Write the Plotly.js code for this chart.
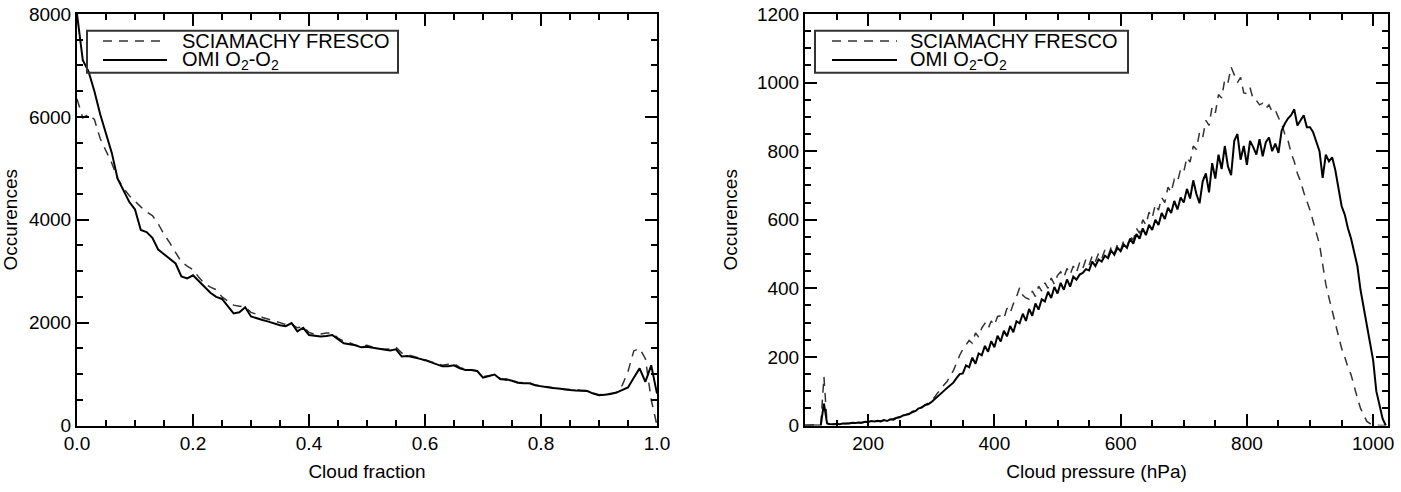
<!DOCTYPE html>
<html><head><meta charset="utf-8">
<script src="https://cdn.plot.ly/plotly-3.0.1.min.js"></script>
<style>html,body{margin:0;padding:0;background:#fff;} #chart{width:1401px;height:492px;}</style>
</head><body><div id="chart"></div>
<script>
// ---------- data: left panel (cloud fraction histogram) ----------
const cloudFraction = [
0.00,0.01,0.02,0.03,0.04,0.05,0.06,0.07,0.08,0.09,
0.10,0.11,0.12,0.13,0.14,0.15,0.16,0.17,0.18,0.19,
0.20,0.21,0.22,0.23,0.24,0.25,0.26,0.27,0.28,0.29,
0.30,0.31,0.32,0.33,0.34,0.35,0.36,0.37,0.38,0.39,
0.40,0.41,0.42,0.43,0.44,0.45,0.46,0.47,0.48,0.49,
0.50,0.51,0.52,0.53,0.54,0.55,0.56,0.57,0.58,0.59,
0.60,0.61,0.62,0.63,0.64,0.65,0.66,0.67,0.68,0.69,
0.70,0.71,0.72,0.73,0.74,0.75,0.76,0.77,0.78,0.79,
0.80,0.81,0.82,0.83,0.84,0.85,0.86,0.87,0.88,0.89,
0.90,0.91,0.92,0.93,0.94,0.95,0.96,0.97,0.98,0.99,1.00];
const fractionFresco = [
6350,5980,6050,5950,5580,5330,5100,4800,4620,4470,
4350,4250,4150,4080,3920,3720,3550,3360,3180,3100,
3030,2880,2760,2690,2640,2500,2420,2340,2320,2300,
2200,2160,2100,2070,2040,2000,1960,1970,1900,1920,
1810,1770,1780,1800,1800,1700,1640,1610,1560,1540,
1560,1520,1500,1480,1490,1520,1410,1380,1350,1310,
1280,1240,1200,1170,1190,1200,1130,1090,1080,1060,
950,970,990,910,880,870,840,830,830,790,
770,750,735,720,700,700,700,680,680,630,
600,610,620,640,780,1050,1450,1500,1300,500,0];
const fractionOmi = [
8000,7100,6880,6500,6050,5680,5300,4800,4560,4350,
4200,3800,3760,3650,3420,3330,3230,3150,2900,2860,
2920,2800,2700,2580,2500,2460,2320,2180,2200,2300,
2120,2080,2050,2020,1980,1950,1930,1990,1830,1900,
1760,1740,1730,1740,1760,1680,1600,1580,1560,1520,
1530,1510,1490,1470,1460,1480,1340,1350,1330,1300,
1270,1230,1190,1150,1150,1170,1110,1080,1080,1060,
930,960,990,900,900,870,830,820,820,780,
760,740,730,720,700,690,680,680,670,620,
590,600,610,640,690,740,930,1110,850,1170,620];

// ---------- data: right panel (cloud pressure histogram, hPa) ----------
const cloudPressure = [
100,105,110,115,120,125,130,135,140,145,
150,155,160,165,170,175,180,185,190,195,
200,205,210,215,220,225,230,235,240,245,
250,255,260,265,270,275,280,285,290,295,
300,305,310,315,320,325,330,335,340,345,
350,355,360,365,370,375,380,385,390,395,
400,405,410,415,420,425,430,435,440,445,
450,455,460,465,470,475,480,485,490,495,
500,505,510,515,520,525,530,535,540,545,
550,555,560,565,570,575,580,585,590,595,
600,605,610,615,620,625,630,635,640,645,
650,655,660,665,670,675,680,685,690,695,
700,705,710,715,720,725,730,735,740,745,
750,755,760,765,770,775,780,785,790,795,
800,805,810,815,820,825,830,835,840,845,
850,855,860,865,870,875,880,885,890,895,
900,905,910,915,920,925,930,935,940,945,
950,955,960,965,970,975,980,985,990,995,
1000,1005,1010,1015,1020];
const pressureFresco = [
0,0,1,0,1,2,142,4,3,5,
4,6,5,6,7,6,8,7,9,10,
12,11,13,12,14,15,14,17,19,21,
26,27,32,35,38,44,47,55,58,66,
75,82,95,104,118,128,145,160,182,205,
222,236,248,240,270,258,284,298,282,305,
292,318,320,312,342,328,355,375,402,380,
372,368,392,376,406,392,416,400,430,412,
438,448,432,458,440,465,446,475,458,485,
468,495,478,502,486,512,494,520,502,528,
512,540,518,552,540,575,560,600,585,622,
605,645,628,665,650,695,680,718,710,748,
740,782,768,815,805,855,840,890,875,930,
912,965,955,1010,1000,1045,1025,1000,1015,970,
968,985,950,948,935,940,925,935,915,920,
898,880,850,832,795,770,735,712,680,655,
628,595,560,528,470,412,372,335,295,262,
225,200,170,148,110,80,50,30,12,6,
3,1,0,0,0];
const pressureOmi = [
0,0,0,1,0,1,64,6,4,3,
5,4,6,5,6,8,7,9,8,11,
10,13,12,14,12,16,13,18,17,22,
24,29,30,33,40,42,50,52,60,62,
68,77,86,92,101,109,116,125,138,150,
152,175,170,198,180,210,205,232,215,246,
228,262,245,276,260,290,272,304,298,326,
305,340,320,356,338,368,362,390,372,404,
385,416,396,426,405,434,425,440,445,456,
452,478,465,484,478,495,488,510,498,518,
508,528,518,545,530,558,545,575,555,585,
570,600,585,620,602,635,620,655,630,665,
650,690,662,715,675,648,712,735,680,765,
720,790,748,815,755,730,830,850,775,815,
760,830,812,790,835,785,826,840,800,822,
795,860,880,895,905,922,875,890,905,870,
870,855,825,800,722,790,770,782,745,690,
640,615,575,545,500,465,395,345,300,240,
190,100,55,20,0];

const seriesNames = ['SCIAMACHY FRESCO', 'OMI O<sub>2</sub>-O<sub>2</sub>'];
const xTitles = ['Cloud fraction', 'Cloud pressure (hPa)'];
const yTitle = 'Occurences';

// ---------- styling ----------
const W = 1401, H = 492;
const FONT = 'Liberation Sans, Arial, Helvetica, sans-serif';
const FS = 19;
const px = v => v / W;
const py = v => 1 - v / H;
const dashStyle = {color: '#333', width: 1.5, dash: '9px,7px'};
const solidStyle = {color: '#000', width: 2};

const traces = [
  {x: cloudFraction, y: fractionFresco, xaxis: 'x', yaxis: 'y', mode: 'lines', name: seriesNames[0], line: dashStyle},
  {x: cloudFraction, y: fractionOmi, xaxis: 'x', yaxis: 'y', mode: 'lines', name: seriesNames[1], line: solidStyle},
  {x: cloudPressure, y: pressureFresco, xaxis: 'x2', yaxis: 'y2', mode: 'lines', name: seriesNames[0], line: dashStyle},
  {x: cloudPressure, y: pressureOmi, xaxis: 'x2', yaxis: 'y2', mode: 'lines', name: seriesNames[1], line: solidStyle}
];

function axisBase(minorStep, extra) {
  return Object.assign({
    showline: true, linecolor: '#000', linewidth: 2, mirror: 'ticks',
    ticks: 'inside', ticklen: 12, tickwidth: 2, tickcolor: '#000',
    showgrid: false, zeroline: false,
    minor: {ticks: 'inside', ticklen: 6, dtick: minorStep, tickwidth: 2, tickcolor: '#000', showgrid: false},
    tickfont: {family: FONT, size: FS, color: '#000'}
  }, extra);
}

const yDom = [1 - 425.5 / H, 1 - 14 / H];

const layout = {
  width: W, height: H,
  margin: {l: 0, r: 0, t: 0, b: 0},
  paper_bgcolor: '#fff', plot_bgcolor: '#fff',
  showlegend: false,
  font: {family: FONT, size: FS, color: '#000'},
  xaxis: axisBase(0.05, {domain: [px(77), px(657)], anchor: 'y', range: [0, 1], dtick: 0.2, tick0: 0,
    tickformat: '.1f',
    title: {text: xTitles[0], font: {family: FONT, size: FS}, standoff: 11}}),
  yaxis: axisBase(500, {domain: yDom, anchor: 'x', range: [0, 8000], dtick: 2000, tick0: 0,
    title: {text: yTitle, font: {family: FONT, size: FS}, standoff: 11}}),
  xaxis2: axisBase(50, {domain: [px(805), px(1388)], anchor: 'y2', range: [100, 1023.5], dtick: 200, tick0: 0,
    title: {text: xTitles[1], font: {family: FONT, size: FS}, standoff: 11}}),
  yaxis2: axisBase(50, {domain: yDom, anchor: 'x2', range: [0, 1200], dtick: 200, tick0: 0,
    title: {text: yTitle, font: {family: FONT, size: FS}, standoff: 14}}),
  shapes: [],
  annotations: []
};

// manual legends (boxes + sample lines + labels), one per panel
const legends = [
  {box: [87, 398], line: [103, 167], text: 180},
  {box: [815, 1128], line: [832, 897], text: 908}
];
const rowsY = [41, 60];
legends.forEach(L => {
  layout.shapes.push({type: 'rect', xref: 'paper', yref: 'paper',
    x0: px(L.box[0]), x1: px(L.box[1]), y0: py(72.7), y1: py(30.7),
    line: {color: '#333', width: 2}, fillcolor: 'rgba(0,0,0,0)'});
  [dashStyle, solidStyle].forEach((st, i) => {
    layout.shapes.push({type: 'line', xref: 'paper', yref: 'paper',
      x0: px(L.line[0]), x1: px(L.line[1]), y0: py(rowsY[i]), y1: py(rowsY[i]),
      line: {color: st.color, width: st.width, dash: st.dash || 'solid'}});
    layout.annotations.push({xref: 'paper', yref: 'paper', x: px(L.text), y: py(rowsY[i]),
      xanchor: 'left', yanchor: 'middle', showarrow: false, text: seriesNames[i],
      font: {family: FONT, size: FS + 1, color: '#000'}});
  });
});

Plotly.newPlot('chart', traces, layout, {displayModeBar: false, staticPlot: true});
</script>
</body></html>
